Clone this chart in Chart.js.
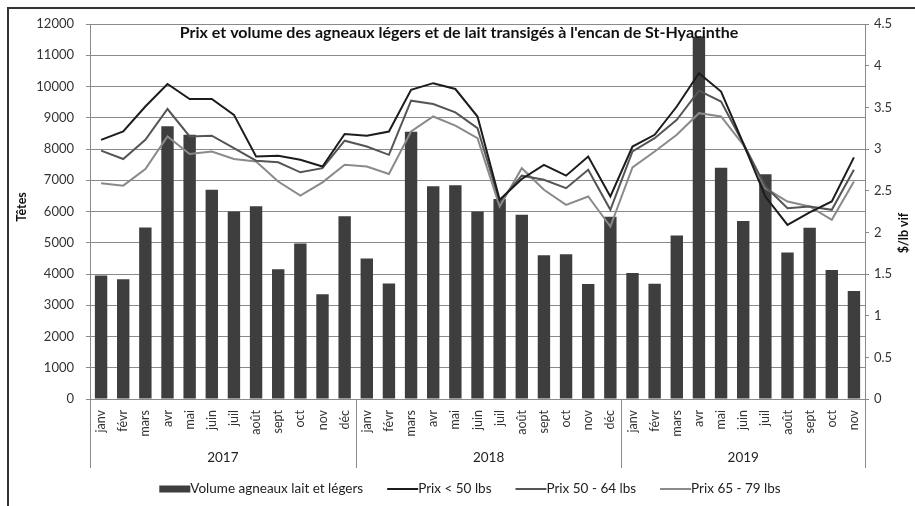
<!DOCTYPE html>
<html><head><meta charset="utf-8">
<script src="https://cdn.jsdelivr.net/npm/chart.js@4/dist/chart.umd.min.js"></script>
<style>
html,body{margin:0;padding:0;background:#fff;}
#wrap{position:relative;width:915px;height:506px;}
#frame{position:absolute;left:7px;top:7px;right:0;bottom:0;border-left:2px solid #333;border-top:2px solid #333;pointer-events:none;}
</style></head><body>
<div id="wrap"><canvas id="c" width="915" height="506"></canvas><div id="frame"></div></div>
<script>
const months = ["janv","févr","mars","avr","mai","juin","juil","août","sept","oct","nov","déc",
                "janv","févr","mars","avr","mai","juin","juil","août","sept","oct","nov","déc",
                "janv","févr","mars","avr","mai","juin","juil","août","sept","oct","nov"];
const years = ["2017","2018","2019"];
const yearStart = [0,12,24];
const yearEnd = [11,23,34];

const volume = [3950,3830,5490,8730,8460,6700,6000,6170,4150,4980,3350,5850,
                4500,3700,8550,6810,6840,6000,6400,5900,4600,4630,3680,5830,
                4030,3690,5230,11600,7400,5700,7190,4690,5480,4130,3460];
const prixMoins50 = [3.11,3.21,3.51,3.78,3.60,3.60,3.41,2.91,2.92,2.87,2.79,3.18,
                     3.16,3.21,3.71,3.79,3.72,3.39,2.39,2.64,2.81,2.68,2.91,2.43,
                     3.03,3.17,3.51,3.91,3.69,3.07,2.43,2.09,2.24,2.37,2.90];
const prix50a64 = [2.98,2.88,3.11,3.48,3.15,3.16,3.01,2.86,2.84,2.72,2.77,3.10,
                   3.03,2.93,3.58,3.54,3.44,3.25,2.37,2.68,2.63,2.53,2.75,2.27,
                   2.97,3.13,3.35,3.70,3.57,3.07,2.55,2.29,2.31,2.27,2.75];
const prix65a79 = [2.59,2.56,2.76,3.15,2.94,2.97,2.88,2.85,2.61,2.44,2.60,2.81,
                   2.79,2.70,3.21,3.39,3.28,3.13,2.31,2.77,2.51,2.33,2.43,2.07,
                   2.78,2.97,3.17,3.43,3.39,3.05,2.53,2.37,2.31,2.15,2.61];

const titleText = "Prix et volume des agneaux légers et de lait transigés à l'encan de St-Hyacinthe";
const leftTitle = "Têtes";
const rightTitle = "$/lb vif";
const FONT = "Lato, 'Open Sans', sans-serif";

const colBar = '#3e3e3e', colP1 = '#1c1c1c', colP2 = '#555555', colP3 = '#8a8a8a';

const legendItems = [
  {type:'bar', color: colBar, text: "Volume agneaux lait et légers"},
  {type:'line', color: colP1, text: "Prix < 50 lbs"},
  {type:'line', color: colP2, text: "Prix 50 - 64 lbs"},
  {type:'line', color: colP3, text: "Prix 65 - 79 lbs"}
];

const extras = {
  id: 'extras',
  afterDraw(chart) {
    const ctx = chart.ctx;
    const xs = chart.scales.x;
    const ca = chart.chartArea;
    ctx.save();
    // title
    ctx.fillStyle = '#111';
    ctx.font = "bold 16px " + FONT;
    ctx.textAlign = 'center';
    ctx.textBaseline = 'middle';
    ctx.fillText(titleText, 459, 33);
    // axis titles
    ctx.font = "bold 12.5px " + FONT;
    ctx.save();
    ctx.translate(22, 207);
    ctx.rotate(-Math.PI/2);
    ctx.fillText(leftTitle, 0, 0);
    ctx.restore();
    ctx.save();
    ctx.translate(904, 233);
    ctx.rotate(-Math.PI/2);
    ctx.fillText(rightTitle, 0, 0);
    ctx.restore();
    // year separators and labels
    const half = (xs.getPixelForValue(1) - xs.getPixelForValue(0)) / 2;
    ctx.strokeStyle = '#8a8a8a';
    ctx.lineWidth = 1;
    const seps = [xs.getPixelForValue(0) - half];
    yearEnd.forEach(e => seps.push(xs.getPixelForValue(e) + half));
    seps.forEach(sx => {
      const px = Math.round(sx) + 0.5;
      ctx.beginPath(); ctx.moveTo(px, ca.bottom); ctx.lineTo(px, 468); ctx.stroke();
    });
    ctx.fillStyle = '#222';
    ctx.font = "13.5px " + FONT;
    years.forEach((y, i) => {
      const cx = (xs.getPixelForValue(yearStart[i]) + xs.getPixelForValue(yearEnd[i])) / 2;
      ctx.fillText(y, cx, 458);
    });
    // legend
    ctx.font = "13.5px " + FONT;
    ctx.textAlign = 'left';
    const sw = 31, gap = 24;
    let total = 0;
    legendItems.forEach((it, i) => { total += sw + ctx.measureText(it.text).width + (i ? gap : 0); });
    let x = 470 - total / 2;
    const ly = 489;
    legendItems.forEach((it, i) => {
      if (i) x += gap;
      if (it.type === 'bar') {
        ctx.fillStyle = it.color;
        ctx.fillRect(x, ly - 3.5, sw, 7);
      } else {
        ctx.strokeStyle = it.color;
        ctx.lineWidth = 2;
        ctx.beginPath(); ctx.moveTo(x, ly); ctx.lineTo(x + sw, ly); ctx.stroke();
      }
      x += sw;
      ctx.fillStyle = '#222';
      ctx.fillText(it.text, x, ly);
      x += ctx.measureText(it.text).width;
    });
    ctx.restore();
  }
};

new Chart(document.getElementById('c'), {
  data: {
    labels: months,
    datasets: [
      {type:'line', label:"Prix < 50 lbs", data: prixMoins50, yAxisID:'y1', borderColor: colP1, backgroundColor: colP1, borderWidth:2, pointRadius:0, tension:0, order:1},
      {type:'line', label:"Prix 50 - 64 lbs", data: prix50a64, yAxisID:'y1', borderColor: colP2, backgroundColor: colP2, borderWidth:2, pointRadius:0, tension:0, order:1},
      {type:'line', label:"Prix 65 - 79 lbs", data: prix65a79, yAxisID:'y1', borderColor: colP3, backgroundColor: colP3, borderWidth:2, pointRadius:0, tension:0, order:1},
      {type:'bar', label:"Volume agneaux lait et légers", data: volume, yAxisID:'y', backgroundColor: colBar, barPercentage:0.56, categoryPercentage:1, order:2}
    ]
  },
  options: {
    responsive:false, animation:false,
    layout:{padding:{top:24,left:0,right:0,bottom:0}},
    plugins:{legend:{display:false}, title:{display:false}, tooltip:{enabled:false}},
    scales:{
      x:{
        grid:{display:false},
        border:{display:true, color:'#8a8a8a'},
        ticks:{minRotation:90, maxRotation:90, autoSkip:false, color:'#333', font:{family:FONT, size:12.5}, padding:3},
        afterFit(s){ s.height = 107; }
      },
      y:{
        position:'left', min:0, max:12000,
        ticks:{stepSize:1000, color:'#333', font:{family:FONT, size:13}, padding:12, callback:(v)=>String(v)},
        grid:{color:'#8a8a8a', lineWidth:1, tickLength:4},
        border:{display:true, color:'#8a8a8a'},
        afterFit(s){ s.width = 90; }
      },
      y1:{
        position:'right', min:0, max:4.5,
        ticks:{stepSize:0.5, color:'#333', font:{family:FONT, size:13}, padding:5, callback:(v)=>String(v)},
        grid:{drawOnChartArea:false, color:'#8a8a8a', tickLength:4},
        border:{display:true, color:'#8a8a8a'},
        afterFit(s){ s.width = 50; }
      }
    }
  },
  plugins:[extras]
});
</script>
</body></html>
